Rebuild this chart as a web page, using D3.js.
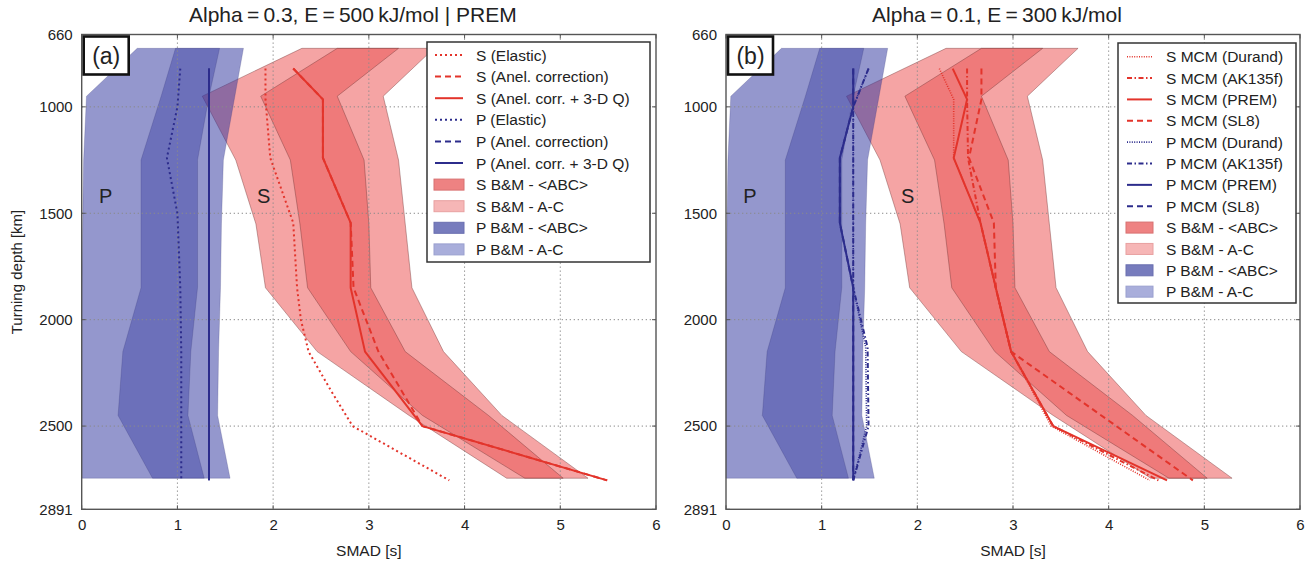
<!DOCTYPE html>
<html><head><meta charset="utf-8">
<script src="https://cdn.jsdelivr.net/npm/d3@7"></script>
<style>body{margin:0;background:#fff}svg{display:block;font-family:"Liberation Sans",Arial,Helvetica,sans-serif}</style>
</head><body><svg id="c" width="1314" height="565"></svg>
<script>
// ---------- data ----------
const xTicks = [0, 1, 2, 3, 4, 5, 6];
const yTicks = [660, 1000, 1500, 2000, 2500, 2891];
const yGrid = [1000, 1500, 2000, 2500];
const titles = ["Alpha\u2009=\u20090.3, E\u2009=\u2009500\u2009kJ/mol | PREM", "Alpha\u2009=\u20090.1, E\u2009=\u2009300\u2009kJ/mol"];
const panelTags = ["(a)", "(b)"];

// B&M bands (same in both panels)
const bandDepth = [725, 950, 1250, 1550, 1850, 2150, 2450, 2745];
const sAcLo  = [2.30, 1.26, 1.61, 1.82, 1.92, 2.46, 3.42, 4.44];
const sAcHi  = [3.68, 3.15, 3.31, 3.38, 3.45, 3.78, 4.39, 5.29];
const sAbcLo = [2.67, 1.87, 2.18, 2.28, 2.36, 2.81, 3.56, 4.63];
const sAbcHi = [3.31, 2.67, 2.95, 3.00, 3.02, 3.38, 4.25, 5.03];
const pAcLo  = [0.58, 0.05, 0.02, 0.01, 0.00, 0.00, 0.00, 0.00];
const pAcHi  = [1.69, 1.60, 1.48, 1.46, 1.45, 1.43, 1.42, 1.55];
const pAbcLo = [0.98, 0.83, 0.62, 0.62, 0.62, 0.43, 0.38, 0.74];
const pAbcHi = [1.44, 1.33, 1.21, 1.21, 1.21, 1.14, 1.11, 1.28];

// panel (a) lines
const lineDepth = [820, 965, 1240, 1545, 1850, 2150, 2500, 2755];
const sElasticDepth = [820, 965, 1240, 1545, 1850, 2000, 2150, 2330, 2500, 2755];
const sElasticA = [1.92, 1.92, 1.97, 2.21, 2.25, 2.29, 2.37, 2.60, 2.83, 3.84];
const sAnelA = [2.21, 2.52, 2.52, 2.81, 2.84, 3.10, 3.56, 5.49];
const sFullA = [2.21, 2.52, 2.52, 2.81, 2.81, 2.96, 3.56, 5.49];
const pElasticDepth = [820, 1000, 1240, 1500, 1850, 2150, 2500, 2755];
const pElasticA = [1.03, 1.00, 0.89, 1.00, 1.03, 1.04, 1.04, 1.04];
const pAnelA = [1.33, 1.33, 1.33, 1.33, 1.33, 1.33, 1.33, 1.33];
const pFullA = [1.33, 1.33, 1.33, 1.33, 1.33, 1.33, 1.33, 1.33];

// panel (b) lines
const sDurandB = [2.23, 2.38, 2.38, 2.66, 2.82, 2.98, 3.40, 4.43];
const sAkB     = [2.52, 2.52, 2.53, 2.66, 2.82, 2.98, 3.42, 4.52];
const sPremB   = [2.37, 2.52, 2.38, 2.66, 2.82, 2.98, 3.42, 4.61];
const sSl8B    = [2.67, 2.67, 2.54, 2.80, 2.82, 2.98, 4.08, 4.88];
const pDepthB  = [820, 1000, 1240, 1545, 1850, 2130, 2500, 2755];
const pDurandB = [1.49, 1.33, 1.33, 1.33, 1.33, 1.46, 1.47, 1.33];
const pAkB     = [1.49, 1.33, 1.33, 1.33, 1.33, 1.48, 1.49, 1.33];
const pPremB   = [1.33, 1.33, 1.19, 1.19, 1.33, 1.33, 1.33, 1.33];
const pSl8B    = [1.33, 1.33, 1.19, 1.19, 1.33, 1.33, 1.33, 1.33];

const legendA = ["S (Elastic)", "S (Anel. correction)", "S (Anel. corr. + 3-D Q)", "P (Elastic)", "P (Anel. correction)", "P (Anel. corr. + 3-D Q)", "S B&M - <ABC>", "S B&M - A-C", "P B&M - <ABC>", "P B&M - A-C"];
const legendB = ["S MCM (Durand)", "S MCM (AK135f)", "S MCM (PREM)", "S MCM (SL8)", "P MCM (Durand)", "P MCM (AK135f)", "P MCM (PREM)", "P MCM (SL8)", "S B&M - <ABC>", "S B&M - A-C", "P B&M - <ABC>", "P B&M - A-C"];

// ---------- styles ----------
const RED = "#e3342b", BLUE = "#2c2c8c";
const ST = {
  dotted:  {dash: "2,3", w: 2},
  dashed:  {dash: "6,4", w: 2},
  solid:   {dash: null, w: 2},
  fine:    {dash: "1,1.4", w: 1.6},
  dashdot: {dash: "5,2.5,1.5,2.5", w: 2}
};
const BANDSTYLE = {
  sAc:  {fill: "rgb(235,65,65)", op: 0.48, stroke: "rgba(110,50,50,0.45)", sw: "#f6b6b6", sws: "#e8a0a0"},
  sAbc: {fill: "rgb(230,60,60)", op: 0.40, stroke: "rgba(110,50,50,0.45)", sw: "#ee8282", sws: "#d87070"},
  pAc:  {fill: "rgb(50,55,160)", op: 0.52, stroke: "rgba(50,50,110,0.25)", sw: "#a9aedb", sws: "#9aa0cf"},
  pAbc: {fill: "rgb(50,55,160)", op: 0.41, stroke: "rgba(50,50,110,0.25)", sw: "#777cbd", sws: "#6a6fb0"}
};

const zip = (d, v) => d.map((dd, i) => [v[i], dd]);

const panels = [
  { left: 81.7, right: 656,
    lines: [
      {d: sElasticDepth, v: sElasticA, c: RED, s: "dotted"},
      {d: lineDepth, v: sAnelA, c: RED, s: "dashed"},
      {d: lineDepth, v: sFullA, c: RED, s: "solid"},
      {d: pElasticDepth, v: pElasticA, c: BLUE, s: "dotted"},
      {d: lineDepth, v: pAnelA, c: BLUE, s: "dashed"},
      {d: lineDepth, v: pFullA, c: BLUE, s: "solid"}
    ],
    legend: {labels: legendA, x0: 427, y0: 42, w: 223, h: 220, row0: 55, dy: 21.6, sx0: 435, sx1: 463, tx: 476,
      kinds: [["l",RED,"dotted"],["l",RED,"dashed"],["l",RED,"solid"],["l",BLUE,"dotted"],["l",BLUE,"dashed"],["l",BLUE,"solid"],["b","sAbc"],["b","sAc"],["b","pAbc"],["b","pAc"]]}
  },
  { left: 726, right: 1300,
    lines: [
      {d: lineDepth, v: sDurandB, c: RED, s: "fine"},
      {d: lineDepth, v: sAkB, c: RED, s: "dashdot"},
      {d: lineDepth, v: sSl8B, c: RED, s: "dashed"},
      {d: lineDepth, v: sPremB, c: RED, s: "solid"},
      {d: pDepthB, v: pDurandB, c: BLUE, s: "fine"},
      {d: pDepthB, v: pAkB, c: BLUE, s: "dashdot"},
      {d: pDepthB, v: pSl8B, c: BLUE, s: "dashed"},
      {d: pDepthB, v: pPremB, c: BLUE, s: "solid"}
    ],
    legend: {labels: legendB, x0: 1118, y0: 43, w: 178, h: 260, row0: 56.7, dy: 21.36, sx0: 1127, sx1: 1152, tx: 1166,
      kinds: [["l",RED,"fine"],["l",RED,"dashdot"],["l",RED,"solid"],["l",RED,"dashed"],["l",BLUE,"fine"],["l",BLUE,"dashdot"],["l",BLUE,"solid"],["l",BLUE,"dashed"],["b","sAbc"],["b","sAc"],["b","pAbc"],["b","pAc"]]}
  }
];

const TOP = 34.5, BOT = 509.3;
const svg = d3.select("#c");

panels.forEach((p, pi) => {
  const x = d3.scaleLinear().domain([0, 6]).range([p.left, p.right]);
  const y = d3.scaleLinear().domain([660, 2891]).range([TOP, BOT]);
  const g = svg.append("g");

  const area = d3.area().x0(d => x(d.lo)).x1(d => x(d.hi)).y(d => y(d.dep)).curve(d3.curveLinear);
  const bandData = (lo, hi) => bandDepth.map((dep, i) => ({dep, lo: lo[i], hi: hi[i]}));
  const bands = [["sAc", sAcLo, sAcHi], ["sAbc", sAbcLo, sAbcHi], ["pAc", pAcLo, pAcHi], ["pAbc", pAbcLo, pAbcHi]];
  bands.forEach(([k, lo, hi]) => {
    const st = BANDSTYLE[k];
    g.append("path").datum(bandData(lo, hi)).attr("d", area)
      .attr("fill", st.fill).attr("fill-opacity", st.op)
      .attr("stroke", st.stroke).attr("stroke-width", 0.9).attr("stroke-linejoin", "round");
  });

  // grid
  const grid = g.append("g").attr("stroke", "#8a8a8a").attr("stroke-width", 1).attr("stroke-dasharray", "1.3,2.7");
  xTicks.slice(1, -1).forEach(t => grid.append("line").attr("x1", x(t)).attr("x2", x(t)).attr("y1", TOP).attr("y2", BOT));
  yGrid.forEach(t => grid.append("line").attr("x1", p.left).attr("x2", p.right).attr("y1", y(t)).attr("y2", y(t)));

  // lines
  const line = d3.line().x(d => x(d[0])).y(d => y(d[1]));
  p.lines.forEach(L => {
    const st = ST[L.s];
    g.append("path").datum(zip(L.d, L.v)).attr("d", line)
      .attr("fill", "none").attr("stroke", L.c).attr("stroke-width", st.w)
      .attr("stroke-dasharray", st.dash).attr("stroke-linejoin", "round");
  });

  // P / S labels
  g.append("text").attr("x", x(0.25)).attr("y", y(1420)).attr("dy", "0.35em").attr("text-anchor", "middle")
    .attr("font-size", 20).attr("fill", "#222").text("P");
  g.append("text").attr("x", x(1.9)).attr("y", y(1420)).attr("dy", "0.35em").attr("text-anchor", "middle")
    .attr("font-size", 20).attr("fill", "#222").text("S");

  // frame
  g.append("rect").attr("x", p.left).attr("y", TOP).attr("width", p.right - p.left).attr("height", BOT - TOP)
    .attr("fill", "none").attr("stroke", "#555").attr("stroke-width", 1.4);

  // inner ticks
  const tk = g.append("g").attr("stroke", "#555").attr("stroke-width", 1);
  xTicks.forEach(t => {
    tk.append("line").attr("x1", x(t)).attr("x2", x(t)).attr("y1", BOT).attr("y2", BOT - 4);
    tk.append("line").attr("x1", x(t)).attr("x2", x(t)).attr("y1", TOP).attr("y2", TOP + 4);
  });
  yTicks.forEach(t => {
    tk.append("line").attr("x1", p.left).attr("x2", p.left + 4).attr("y1", y(t)).attr("y2", y(t));
    tk.append("line").attr("x1", p.right).attr("x2", p.right - 4).attr("y1", y(t)).attr("y2", y(t));
  });

  // axes labels via d3 axis
  const xAxis = d3.axisBottom(x).tickValues(xTicks).tickSize(0).tickPadding(10).tickFormat(d3.format("d"));
  const ax = g.append("g").attr("transform", `translate(0,${BOT})`).call(xAxis);
  ax.select(".domain").remove();
  ax.selectAll("text").attr("font-size", 15).attr("fill", "#222").attr("font-family", null);

  const yAxis = d3.axisLeft(y).tickValues(yTicks).tickSize(0).tickPadding(9).tickFormat(d3.format("d"));
  const ay = g.append("g").attr("transform", `translate(${p.left},0)`).call(yAxis);
  ay.select(".domain").remove();
  ay.selectAll("text").attr("font-size", 15).attr("fill", "#222").attr("font-family", null);

  g.append("text").attr("x", (p.left + p.right) / 2).attr("y", 556).attr("text-anchor", "middle")
    .attr("font-size", 15.5).attr("fill", "#222").text("SMAD [s]");

  g.append("text").attr("x", (p.left + p.right) / 2 - 16).attr("y", 22).attr("text-anchor", "middle")
    .attr("font-size", 21).attr("fill", "#222").text(titles[pi]);

  // tag box
  g.append("rect").attr("x", p.left + 2).attr("y", TOP + 2).attr("width", 45).attr("height", 38)
    .attr("fill", "#fff").attr("stroke", "#111").attr("stroke-width", 2.6);
  g.append("text").attr("x", p.left + 24.5).attr("y", TOP + 21).attr("dy", "0.36em").attr("text-anchor", "middle")
    .attr("font-size", 23).attr("fill", "#222").text(panelTags[pi]);

  // legend
  const lg = p.legend;
  const leg = g.append("g");
  leg.append("rect").attr("x", lg.x0).attr("y", lg.y0).attr("width", lg.w).attr("height", lg.h)
    .attr("fill", "#fff").attr("stroke", "#333").attr("stroke-width", 1.5);
  lg.labels.forEach((lab, i) => {
    const yy = lg.row0 + i * lg.dy;
    const k = lg.kinds[i];
    if (k[0] === "l") {
      const st = ST[k[2]];
      leg.append("line").attr("x1", lg.sx0).attr("x2", lg.sx1).attr("y1", yy).attr("y2", yy)
        .attr("stroke", k[1]).attr("stroke-width", st.w).attr("stroke-dasharray", st.dash);
    } else {
      const st = BANDSTYLE[k[1]];
      leg.append("rect").attr("x", lg.sx0 - 1).attr("y", yy - 5.5).attr("width", lg.sx1 - lg.sx0 + 2).attr("height", 11)
        .attr("fill", st.sw).attr("stroke", st.sws).attr("stroke-width", 1);
    }
    leg.append("text").attr("x", lg.tx).attr("y", yy).attr("dy", "0.36em")
      .attr("font-size", 15.5).attr("fill", "#222").text(lab);
  });
});

svg.append("text").attr("transform", "translate(17,272) rotate(-90)").attr("dy", "0.35em")
  .attr("text-anchor", "middle").attr("font-size", 15).attr("fill", "#222").text("Turning depth [km]");
</script></body></html>
